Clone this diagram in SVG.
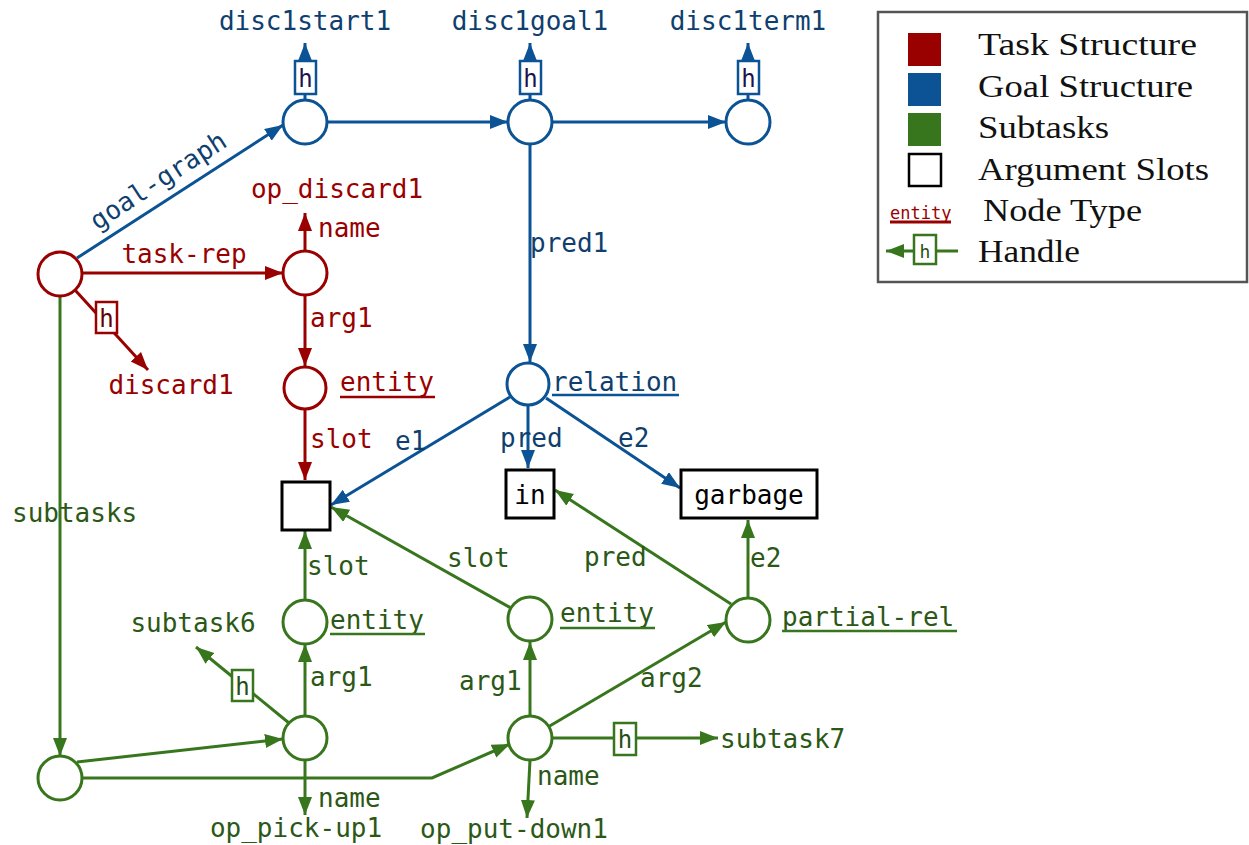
<svg xmlns="http://www.w3.org/2000/svg" width="1249" height="845" viewBox="0 0 1249 845">
  <style>
    text { font-family: "DejaVu Sans Mono", "Liberation Mono", monospace; font-size: 26px; }
    .legend text { font-family: "Liberation Serif", "DejaVu Serif", serif; font-size: 32px; fill: #111; }
    .r { stroke: #990000; }
    .b { stroke: #0b5394; }
    .g { stroke: #38761d; }
    line, polyline, path.e { fill: none; stroke-width: 3; }
    circle { fill: #fff; stroke-width: 3; }
    .tr { fill: #990000; }
    .tb { fill: #0f3f6e; }
    .tg { fill: #2b5816; }
    .hb { fill: #fff; stroke-width: 2.5; }
    .ht { font-size: 24px; text-anchor: middle; }
    .slotbox { fill: #fff; stroke: #000; stroke-width: 3; }
    .mid { text-anchor: middle; }
    .ul { stroke-width: 2.5; }
  </style>
  <defs>
    <marker id="arR" markerUnits="userSpaceOnUse" markerWidth="20" markerHeight="16" refX="18" refY="7" orient="auto">
      <path d="M0,0 L18,7 L0,14 z" fill="#990000"/>
    </marker>
    <marker id="arB" markerUnits="userSpaceOnUse" markerWidth="20" markerHeight="16" refX="18" refY="7" orient="auto">
      <path d="M0,0 L18,7 L0,14 z" fill="#0b5394"/>
    </marker>
    <marker id="arG" markerUnits="userSpaceOnUse" markerWidth="20" markerHeight="16" refX="18" refY="7" orient="auto">
      <path d="M0,0 L18,7 L0,14 z" fill="#38761d"/>
    </marker>
  </defs>

  <!-- connectors -->
  <g id="connectors">
    <!-- goal structure -->
    <line class="b" x1="77" y1="258" x2="283" y2="125" marker-end="url(#arB)"/>
    <line class="b" x1="327" y1="122" x2="508" y2="122" marker-end="url(#arB)"/>
    <line class="b" x1="552" y1="122" x2="726" y2="122" marker-end="url(#arB)"/>
    <line class="b" x1="530" y1="144" x2="530" y2="362" marker-end="url(#arB)"/>
    <line class="b" x1="510" y1="397" x2="331" y2="505" marker-end="url(#arB)"/>
    <line class="b" x1="528" y1="406" x2="528" y2="468" marker-end="url(#arB)"/>
    <line class="b" x1="546" y1="398" x2="680" y2="488" marker-end="url(#arB)"/>
    <!-- goal handles -->
    <line class="b" x1="305" y1="100" x2="305" y2="43" marker-end="url(#arB)"/>
    <line class="b" x1="530" y1="100" x2="530" y2="43" marker-end="url(#arB)"/>
    <line class="b" x1="748" y1="100" x2="748" y2="43" marker-end="url(#arB)"/>

    <!-- task structure -->
    <line class="r" x1="82" y1="273" x2="283" y2="273" marker-end="url(#arR)"/>
    <line class="r" x1="305" y1="251" x2="305" y2="213" marker-end="url(#arR)"/>
    <line class="r" x1="305" y1="295" x2="305" y2="366" marker-end="url(#arR)"/>
    <line class="r" x1="305" y1="410" x2="305" y2="480" marker-end="url(#arR)"/>
    <line class="r" x1="75" y1="290" x2="148" y2="370" marker-end="url(#arR)"/>

    <!-- subtasks -->
    <line class="g" x1="60" y1="296" x2="60" y2="756" marker-end="url(#arG)"/>
    <line class="g" x1="77" y1="762" x2="283" y2="739" marker-end="url(#arG)"/>
    <polyline class="g" points="82,778 432,778 510,744" marker-end="url(#arG)"/>
    <line class="g" x1="305" y1="716" x2="305" y2="644" marker-end="url(#arG)"/>
    <line class="g" x1="305" y1="600" x2="305" y2="531" marker-end="url(#arG)"/>
    <line class="g" x1="305" y1="760" x2="305" y2="815" marker-end="url(#arG)"/>
    <line class="g" x1="289" y1="723" x2="196" y2="647" marker-end="url(#arG)"/>
    <line class="g" x1="530" y1="716" x2="530" y2="642" marker-end="url(#arG)"/>
    <line class="g" x1="511" y1="608" x2="331" y2="507" marker-end="url(#arG)"/>
    <line class="g" x1="548" y1="727" x2="726" y2="622" marker-end="url(#arG)"/>
    <line class="g" x1="530" y1="760" x2="527" y2="818" marker-end="url(#arG)"/>
    <line class="g" x1="552" y1="738" x2="718" y2="738" marker-end="url(#arG)"/>
    <line class="g" x1="731" y1="604" x2="555" y2="490" marker-end="url(#arG)"/>
    <line class="g" x1="748" y1="598" x2="748" y2="520" marker-end="url(#arG)"/>
  </g>

  <!-- edge labels -->
  <g id="edge-labels">
    <text class="tb mid" transform="translate(163,188) rotate(-33)">goal-graph</text>
    <text class="tb" x="530" y="252">pred1</text>
    <text class="tb" x="395" y="450">e1</text>
    <text class="tb" x="500" y="447">pred</text>
    <text class="tb" x="618" y="447">e2</text>

    <text class="tr mid" x="184" y="263">task-rep</text>
    <text class="tr" x="318" y="237">name</text>
    <text class="tr" x="310" y="327">arg1</text>
    <text class="tr" x="310" y="448">slot</text>

    <text class="tg" x="12" y="522">subtasks</text>
    <text class="tg" x="307" y="575">slot</text>
    <text class="tg" x="310" y="686">arg1</text>
    <text class="tg" x="318" y="807">name</text>
    <text class="tg" x="447" y="567">slot</text>
    <text class="tg" x="584" y="566">pred</text>
    <text class="tg" x="750" y="567">e2</text>
    <text class="tg" x="459" y="690">arg1</text>
    <text class="tg" x="640" y="687">arg2</text>
    <text class="tg" x="537" y="785">name</text>
  </g>

  <!-- handle boxes -->
  <g id="handles">
    <rect class="hb b" x="295" y="61" width="21" height="33"/>
    <text class="ht" x="305.5" y="87" fill="#20124d">h</text>
    <rect class="hb b" x="520" y="61" width="21" height="33"/>
    <text class="ht" x="530.5" y="87" fill="#20124d">h</text>
    <rect class="hb b" x="738" y="61" width="21" height="33"/>
    <text class="ht" x="748.5" y="87" fill="#20124d">h</text>

    <rect class="hb r" x="96" y="302" width="21" height="31"/>
    <text class="ht" x="106.5" y="327" fill="#660000">h</text>

    <rect class="hb g" x="232" y="670" width="21" height="31"/>
    <text class="ht" x="242.5" y="695" fill="#274e13">h</text>
    <rect class="hb g" x="614" y="723" width="22" height="32"/>
    <text class="ht" x="625" y="748" fill="#274e13">h</text>
  </g>

  <!-- goal structure nodes -->
  <g id="disc1start1">
    <circle class="b" cx="305" cy="122" r="22"/>
    <text class="tb mid" x="305" y="30">disc1start1</text>
  </g>
  <g id="disc1goal1">
    <circle class="b" cx="530" cy="122" r="22"/>
    <text class="tb mid" x="530" y="30">disc1goal1</text>
  </g>
  <g id="disc1term1">
    <circle class="b" cx="748" cy="122" r="22"/>
    <text class="tb mid" x="748" y="30">disc1term1</text>
  </g>
  <g id="relation">
    <circle class="b" cx="528" cy="384" r="21"/>
    <text class="tb" x="552" y="391">relation</text>
    <line class="b ul" x1="552" y1="395" x2="679" y2="395"/>
  </g>
  <g id="in">
    <rect class="slotbox" x="506" y="470" width="48" height="48"/>
    <text class="mid" x="530" y="504" fill="#000">in</text>
  </g>
  <g id="garbage">
    <rect class="slotbox" x="681" y="470" width="136" height="48"/>
    <text class="mid" x="749" y="504" fill="#000">garbage</text>
  </g>

  <!-- task structure nodes -->
  <g id="task-root">
    <circle class="r" cx="60" cy="274" r="22"/>
  </g>
  <g id="op-discard">
    <circle class="r" cx="305" cy="273" r="22"/>
    <text class="tr mid" x="337" y="198">op_discard1</text>
  </g>
  <g id="discard1">
    <text class="tr mid" x="171" y="394">discard1</text>
  </g>
  <g id="task-entity">
    <circle class="r" cx="305" cy="388" r="21"/>
    <text class="tr" x="340" y="391">entity</text>
    <line class="r ul" x1="340" y1="397" x2="435" y2="397"/>
  </g>
  <g id="slot">
    <rect class="slotbox" x="282" y="482" width="48" height="48"/>
  </g>

  <!-- subtask nodes -->
  <g id="subtask-list">
    <circle class="g" cx="60" cy="778" r="22"/>
  </g>
  <g id="pick-up">
    <circle class="g" cx="305" cy="738" r="22"/>
    <text class="tg mid" x="296" y="837">op_pick-up1</text>
  </g>
  <g id="subtask6">
    <text class="tg mid" x="193" y="632">subtask6</text>
  </g>
  <g id="pick-up-entity">
    <circle class="g" cx="305" cy="622" r="22"/>
    <text class="tg" x="330" y="629">entity</text>
    <line class="g ul" x1="330" y1="634" x2="425" y2="634"/>
  </g>
  <g id="put-down">
    <circle class="g" cx="530" cy="738" r="22"/>
    <text class="tg mid" x="514" y="838">op_put-down1</text>
  </g>
  <g id="subtask7">
    <text class="tg" x="720" y="748">subtask7</text>
  </g>
  <g id="put-down-entity">
    <circle class="g" cx="530" cy="619" r="22"/>
    <text class="tg" x="560" y="622">entity</text>
    <line class="g ul" x1="560" y1="628" x2="655" y2="628"/>
  </g>
  <g id="partial-rel">
    <circle class="g" cx="748" cy="620" r="22"/>
    <text class="tg" x="782" y="626">partial-rel</text>
    <line class="g ul" x1="782" y1="631" x2="957" y2="631"/>
  </g>

  <!-- legend -->
  <g id="legend" class="legend">
    <rect x="878" y="12" width="369" height="270" fill="#fff" stroke="#555" stroke-width="2.5"/>
    <rect x="908" y="33" width="33" height="33" fill="#990000"/>
    <rect x="908" y="73" width="33" height="33" fill="#0b5394"/>
    <rect x="908" y="113" width="33" height="33" fill="#38761d"/>
    <rect x="909" y="154" width="32" height="32" fill="#fff" stroke="#000" stroke-width="2.5"/>
    <text x="978" y="55" textLength="219" lengthAdjust="spacingAndGlyphs">Task Structure</text>
    <text x="978" y="97" textLength="215" lengthAdjust="spacingAndGlyphs">Goal Structure</text>
    <text x="978" y="138" textLength="131" lengthAdjust="spacingAndGlyphs">Subtasks</text>
    <text x="978" y="180" textLength="231" lengthAdjust="spacingAndGlyphs">Argument Slots</text>
    <text x="983" y="221" textLength="159" lengthAdjust="spacingAndGlyphs">Node Type</text>
    <text x="978" y="262" textLength="102" lengthAdjust="spacingAndGlyphs">Handle</text>
    <text x="890" y="219" style="font-family:'DejaVu Sans Mono','Liberation Mono',monospace;font-size:17px;fill:#990000">entity</text>
    <line x1="890" y1="222" x2="951" y2="222" stroke="#990000" stroke-width="2"/>
    <line x1="958" y1="251" x2="886" y2="251" stroke="#38761d" stroke-width="3" marker-end="url(#arG)"/>
    <rect x="914" y="235" width="22" height="29" fill="#fff" stroke="#38761d" stroke-width="2.5"/>
    <text x="925" y="258" style="font-family:'DejaVu Sans Mono','Liberation Mono',monospace;font-size:18px;fill:#274e13" text-anchor="middle">h</text>
  </g>
</svg>
